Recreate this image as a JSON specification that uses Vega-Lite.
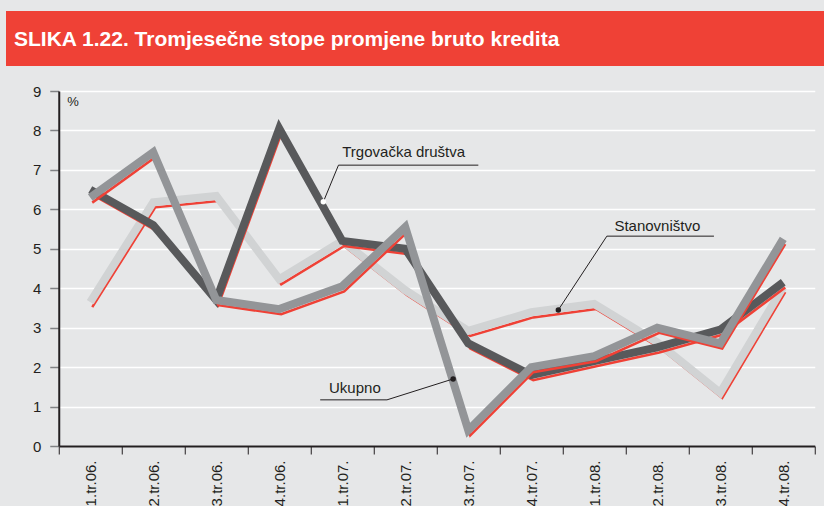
{
  "$schema": "https://vega.github.io/schema/vega-lite/v6.json",
  "background": "#e6e7e8",
  "padding": {"left": 6, "top": 11, "right": 0, "bottom": 0},
  "config": {"view": {"stroke": null}, "font": "Liberation Sans"},
  "spacing": 18,
  "center": true,
  "datasets": {
    "series": [
      {"q": "1.tr.06.", "s": "Trgovačka društva", "v": 6.5},
      {"q": "2.tr.06.", "s": "Trgovačka društva", "v": 5.6},
      {"q": "3.tr.06.", "s": "Trgovačka društva", "v": 3.7},
      {"q": "4.tr.06.", "s": "Trgovačka društva", "v": 8.05},
      {"q": "1.tr.07.", "s": "Trgovačka društva", "v": 5.2},
      {"q": "2.tr.07.", "s": "Trgovačka društva", "v": 5.0},
      {"q": "3.tr.07.", "s": "Trgovačka društva", "v": 2.6},
      {"q": "4.tr.07.", "s": "Trgovačka društva", "v": 1.8},
      {"q": "1.tr.08.", "s": "Trgovačka društva", "v": 2.15},
      {"q": "2.tr.08.", "s": "Trgovačka društva", "v": 2.5},
      {"q": "3.tr.08.", "s": "Trgovačka društva", "v": 2.95},
      {"q": "4.tr.08.", "s": "Trgovačka društva", "v": 4.15},
      {"q": "1.tr.06.", "s": "Ukupno", "v": 6.3},
      {"q": "2.tr.06.", "s": "Ukupno", "v": 7.45},
      {"q": "3.tr.06.", "s": "Ukupno", "v": 3.7},
      {"q": "4.tr.06.", "s": "Ukupno", "v": 3.47},
      {"q": "1.tr.07.", "s": "Ukupno", "v": 4.05},
      {"q": "2.tr.07.", "s": "Ukupno", "v": 5.55},
      {"q": "3.tr.07.", "s": "Ukupno", "v": 0.4},
      {"q": "4.tr.07.", "s": "Ukupno", "v": 2.0},
      {"q": "1.tr.08.", "s": "Ukupno", "v": 2.28},
      {"q": "2.tr.08.", "s": "Ukupno", "v": 3.0},
      {"q": "3.tr.08.", "s": "Ukupno", "v": 2.6},
      {"q": "4.tr.08.", "s": "Ukupno", "v": 5.25},
      {"q": "1.tr.06.", "s": "Stanovništvo", "v": 3.65},
      {"q": "2.tr.06.", "s": "Stanovništvo", "v": 6.18},
      {"q": "3.tr.06.", "s": "Stanovništvo", "v": 6.34},
      {"q": "4.tr.06.", "s": "Stanovništvo", "v": 4.23},
      {"q": "1.tr.07.", "s": "Stanovništvo", "v": 5.2},
      {"q": "2.tr.07.", "s": "Stanovništvo", "v": 3.95},
      {"q": "3.tr.07.", "s": "Stanovništvo", "v": 2.92},
      {"q": "4.tr.07.", "s": "Stanovništvo", "v": 3.39},
      {"q": "1.tr.08.", "s": "Stanovništvo", "v": 3.6},
      {"q": "2.tr.08.", "s": "Stanovništvo", "v": 2.63},
      {"q": "3.tr.08.", "s": "Stanovništvo", "v": 1.35},
      {"q": "4.tr.08.", "s": "Stanovništvo", "v": 4.03}
    ],
    "leaders": [
      {"a": "Trgovačka društva", "o": 1, "x": 6.66, "y": 7.12},
      {"a": "Trgovačka društva", "o": 2, "x": 4.44, "y": 7.12},
      {"a": "Trgovačka društva", "o": 3, "x": 4.20, "y": 6.19},
      {"a": "Stanovništvo", "o": 1, "x": 10.40, "y": 5.32},
      {"a": "Stanovništvo", "o": 2, "x": 8.70, "y": 5.32},
      {"a": "Stanovništvo", "o": 3, "x": 7.93, "y": 3.45},
      {"a": "Ukupno", "o": 1, "x": 4.15, "y": 1.17},
      {"a": "Ukupno", "o": 2, "x": 5.21, "y": 1.17},
      {"a": "Ukupno", "o": 3, "x": 6.26, "y": 1.70}
    ],
    "dots": [
      {"a": "Trgovačka društva", "x": 4.20, "y": 6.19},
      {"a": "Stanovništvo", "x": 7.93, "y": 3.45},
      {"a": "Ukupno", "x": 6.26, "y": 1.70}
    ],
    "labels": [
      {"t": "Trgovačka društva", "x": 4.50, "y": 7.33},
      {"t": "Stanovništvo", "x": 8.82, "y": 5.45},
      {"t": "Ukupno", "x": 4.29, "y": 1.34}
    ]
  },
  "vconcat": [
    {
      "width": 862,
      "height": 55,
      "view": {"fill": "#ef4136", "stroke": null},
      "title": {
        "text": "SLIKA 1.22. Tromjesečne stope promjene bruto kredita",
        "anchor": "start",
        "orient": "top",
        "offset": -37,
        "baseline": "alphabetic",
        "dx": 8,
        "dy": 19,
        "color": "#ffffff",
        "font": "Liberation Sans",
        "fontSize": 21,
        "fontWeight": "bold"
      },
      "data": {"values": [{}]},
      "mark": {"type": "text"},
      "encoding": {"text": {"value": ""}}
    },
    {
      "width": 756,
      "height": 355,
      "resolve": {"scale": {"x": "independent", "y": "independent", "color": "independent"}},
      "layer": [
        {
          "data": {"name": "series"},
          "transform": [{"filter": {"field": "s", "equal": "Stanovništvo"}}],
          "mark": {"type": "line", "color": "#ef4136", "strokeWidth": 2.5, "strokeJoin": "miter"},
          "encoding": {
            "x": {"field": "q", "type": "nominal", "sort": null, "bandPosition": 0.5, "scale": {"type": "band", "paddingInner": 0, "paddingOuter": 0, "range": [2, 758]}, "axis": null},
            "y": {"field": "v", "type": "quantitative", "scale": {"domain": [0.13, 9.13], "nice": false, "zero": false}, "axis": null}
          }
        },
        {
          "data": {"name": "series"},
          "transform": [{"filter": {"field": "s", "equal": "Stanovništvo"}}],
          "mark": {"type": "line", "color": "#d1d3d4", "strokeWidth": 8, "strokeJoin": "miter"},
          "encoding": {
            "x": {"field": "q", "type": "nominal", "sort": null, "bandPosition": 0.5, "scale": {"type": "band", "paddingInner": 0, "paddingOuter": 0},
              "axis": {"title": null, "tickBand": "extent", "labelAngle": -90, "labelAlign": "right", "labelBaseline": "middle", "labelFontSize": 15, "labelColor": "#231f20", "labelPadding": 6, "tickSize": 8, "tickColor": "#231f20", "tickWidth": 1, "domainColor": "#231f20", "domainWidth": 2, "grid": false}},
            "y": {"field": "v", "type": "quantitative", "scale": {"domain": [0, 9], "nice": false},
              "axis": {"title": "%", "titleAngle": 0, "titleX": 8, "titleY": 4, "titleAlign": "left", "titleBaseline": "top", "titleFontSize": 13, "titleFontWeight": "normal", "titleColor": "#231f20",
                "values": [0, 1, 2, 3, 4, 5, 6, 7, 8, 9], "labelFontSize": 15, "labelColor": "#231f20", "labelPadding": 9, "tickSize": 9, "tickColor": "#808285", "tickWidth": 1.5, "domainColor": "#231f20", "domainWidth": 2, "grid": true, "gridColor": "#ffffff", "gridWidth": 1.5, "minExtent": 42, "maxExtent": 42}}
          }
        },
        {
          "data": {"name": "series"},
          "transform": [{"filter": {"field": "s", "equal": "Trgovačka društva"}}],
          "mark": {"type": "line", "color": "#ef4136", "strokeWidth": 2.5, "strokeJoin": "miter"},
          "encoding": {
            "x": {"field": "q", "type": "nominal", "sort": null, "bandPosition": 0.5, "scale": {"type": "band", "paddingInner": 0, "paddingOuter": 0, "range": [2, 758]}, "axis": null},
            "y": {"field": "v", "type": "quantitative", "scale": {"domain": [0.13, 9.13], "nice": false, "zero": false}, "axis": null}
          }
        },
        {
          "data": {"name": "series"},
          "transform": [{"filter": {"field": "s", "equal": "Trgovačka društva"}}],
          "mark": {"type": "line", "color": "#58595b", "strokeWidth": 8, "strokeJoin": "miter"},
          "encoding": {
            "x": {"field": "q", "type": "nominal", "sort": null, "bandPosition": 0.5, "scale": {"type": "band", "paddingInner": 0, "paddingOuter": 0}, "axis": null},
            "y": {"field": "v", "type": "quantitative", "scale": {"domain": [0, 9], "nice": false}, "axis": null}
          }
        },
        {
          "data": {"name": "series"},
          "transform": [{"filter": {"field": "s", "equal": "Ukupno"}}],
          "mark": {"type": "line", "color": "#ef4136", "strokeWidth": 2.5, "strokeJoin": "miter"},
          "encoding": {
            "x": {"field": "q", "type": "nominal", "sort": null, "bandPosition": 0.5, "scale": {"type": "band", "paddingInner": 0, "paddingOuter": 0, "range": [2, 758]}, "axis": null},
            "y": {"field": "v", "type": "quantitative", "scale": {"domain": [0.13, 9.13], "nice": false, "zero": false}, "axis": null}
          }
        },
        {
          "data": {"name": "series"},
          "transform": [{"filter": {"field": "s", "equal": "Ukupno"}}],
          "mark": {"type": "line", "color": "#939598", "strokeWidth": 8, "strokeJoin": "miter"},
          "encoding": {
            "x": {"field": "q", "type": "nominal", "sort": null, "bandPosition": 0.5, "scale": {"type": "band", "paddingInner": 0, "paddingOuter": 0}, "axis": null},
            "y": {"field": "v", "type": "quantitative", "scale": {"domain": [0, 9], "nice": false}, "axis": null}
          }
        },
        {
          "data": {"name": "leaders"},
          "mark": {"type": "line", "color": "#231f20", "strokeWidth": 1},
          "encoding": {
            "x": {"field": "x", "type": "quantitative", "scale": {"domain": [0, 12], "nice": false, "zero": false}, "axis": null},
            "y": {"field": "y", "type": "quantitative", "scale": {"domain": [0, 9], "nice": false}, "axis": null},
            "detail": {"field": "a"},
            "order": {"field": "o"}
          }
        },
        {
          "data": {"name": "dots"},
          "mark": {"type": "point", "filled": true, "size": 30, "opacity": 1},
          "encoding": {
            "x": {"field": "x", "type": "quantitative", "scale": {"domain": [0, 12], "nice": false, "zero": false}, "axis": null},
            "y": {"field": "y", "type": "quantitative", "scale": {"domain": [0, 9], "nice": false}, "axis": null},
            "color": {"field": "a", "type": "nominal", "scale": {"domain": ["Trgovačka društva", "Stanovništvo", "Ukupno"], "range": ["#ffffff", "#231f20", "#231f20"]}, "legend": null}
          }
        },
        {
          "data": {"name": "labels"},
          "mark": {"type": "text", "align": "left", "baseline": "alphabetic", "fontSize": 15, "color": "#231f20"},
          "encoding": {
            "x": {"field": "x", "type": "quantitative", "scale": {"domain": [0, 12], "nice": false, "zero": false}, "axis": null},
            "y": {"field": "y", "type": "quantitative", "scale": {"domain": [0, 9], "nice": false}, "axis": null},
            "text": {"field": "t"}
          }
        }
      ]
    }
  ]
}
